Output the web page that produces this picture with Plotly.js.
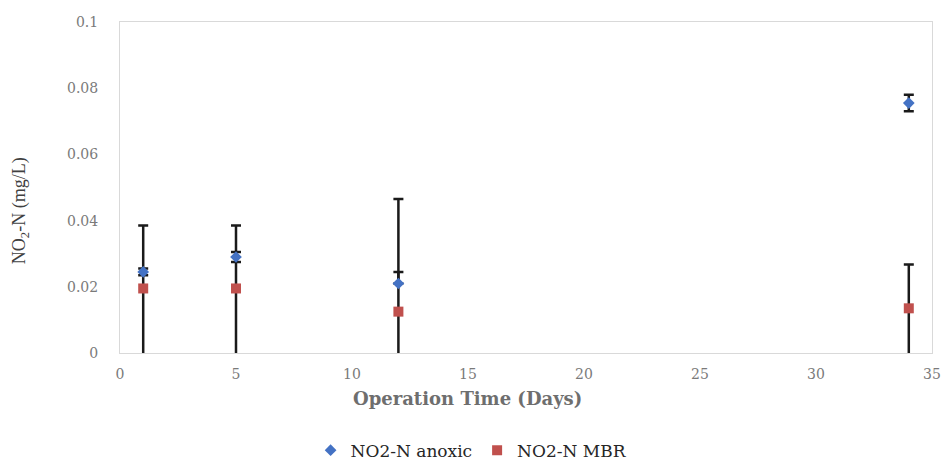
<!DOCTYPE html>
<html><head><meta charset="utf-8">
<script src="https://cdn.plot.ly/plotly-3.0.1.min.js"></script>
<style>html,body{margin:0;padding:0;background:#fff}</style>
</head><body>
<div id="chart" style="width:943px;height:460px"></div>
<script>
const days = [1, 5, 12, 34];
const anoxic = [0.0245, 0.029, 0.021, 0.0755];
const anoxicErrPlus = [0.001, 0.0015, 0.0035, 0.0025];
const anoxicErrMinus = [0.001, 0.0015, 0, 0.0025];
const mbr = [0.0195, 0.0195, 0.0125, 0.0135];
const mbrErrPlus = [0.019, 0.019, 0.034, 0.0132];
const mbrErrMinus = [0.021, 0.021, 0.034, 0.015];
const xTicks = [0, 5, 10, 15, 20, 25, 30, 35];
const yTicks = [0, 0.02, 0.04, 0.06, 0.08, 0.1];
const yTickText = ['0', '0.02', '0.04', '0.06', '0.08', '0.1'];
const xTitle = 'Operation Time (Days)';
const yTitle = 'NO<sub>2</sub>-N (mg/L)';

const serif = 'DejaVu Serif, serif';
const times = 'Liberation Serif, Times New Roman, serif';
const errStyle = {color: '#1a1a1a', thickness: 2.5, width: 5};

const traces = [
  {
    x: days, y: mbr, name: 'NO2-N MBR', mode: 'markers', type: 'scatter',
    legendrank: 2,
    marker: {symbol: 'square', size: 10, color: '#C0504D'},
    error_y: Object.assign({type: 'data', array: mbrErrPlus, arrayminus: mbrErrMinus, symmetric: false, visible: true}, errStyle)
  },
  {
    x: days, y: anoxic, name: 'NO2-N anoxic', mode: 'markers', type: 'scatter',
    legendrank: 1,
    marker: {symbol: 'diamond', size: 9, color: '#4472C4'},
    error_y: Object.assign({type: 'data', array: anoxicErrPlus, arrayminus: anoxicErrMinus, symmetric: false, visible: true}, errStyle)
  }
];

const layout = {
  width: 943, height: 460,
  margin: {l: 120, r: 11, t: 22, b: 107, autoexpand: false},
  paper_bgcolor: '#fff', plot_bgcolor: '#fff',
  showlegend: true,
  legend: {orientation: 'h', x: 0.433, xanchor: 'center', y: -0.295, yanchor: 'middle',
    font: {family: serif, size: 17, color: '#262626'}, itemwidth: 30, tracegroupgap: 0},
  xaxis: {
    range: [0, 35], tickvals: xTicks, showgrid: false, zeroline: false,
    showline: true, linecolor: '#d9d9d9', linewidth: 1, mirror: true,
    ticks: '', ticklabelstandoff: 8, tickfont: {family: serif, size: 14, color: '#7a7a7a'},
    automargin: false
  },
  yaxis: {
    range: [0, 0.1], tickvals: yTicks, ticktext: yTickText, showgrid: false, zeroline: false,
    showline: true, linecolor: '#d9d9d9', linewidth: 1, mirror: true,
    ticks: '', ticklabelstandoff: 18, tickfont: {family: serif, size: 14, color: '#7a7a7a'},
    automargin: false
  },
  annotations: [
    {text: '<b>' + xTitle + '</b>', xref: 'paper', yref: 'paper', x: 0.428, y: -0.137,
     xanchor: 'center', yanchor: 'middle', showarrow: false,
     font: {family: serif, size: 18, color: '#6e6e6e'}},
    {text: yTitle, xref: 'paper', yref: 'paper', x: -0.123, y: 0.429, textangle: -90,
     xanchor: 'center', yanchor: 'middle', showarrow: false,
     font: {family: times, size: 18, color: '#404040'}}
  ]
};

Plotly.newPlot('chart', traces, layout, {staticPlot: true, displayModeBar: false});
</script>
</body></html>
